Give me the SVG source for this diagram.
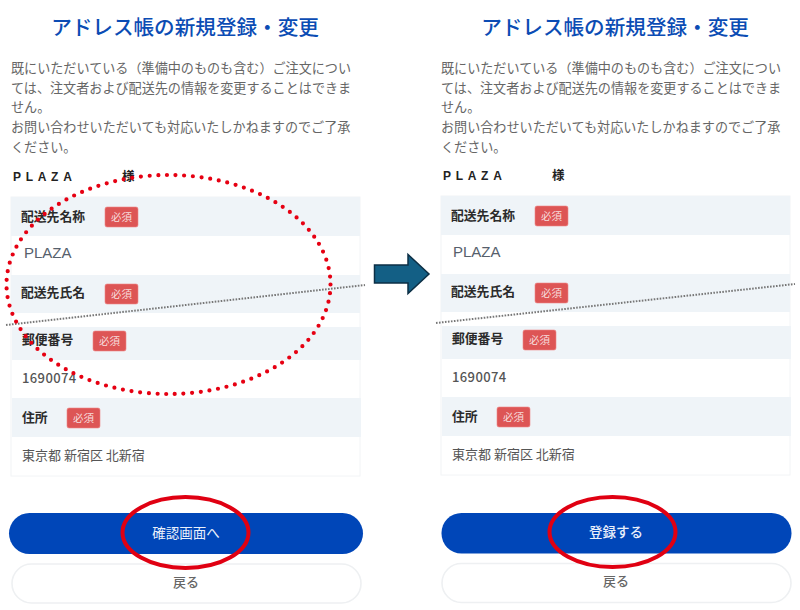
<svg xmlns="http://www.w3.org/2000/svg" width="800" height="610" viewBox="0 0 800 610">
<defs><style>
text{font-family:"Noto Sans CJK JP","Noto Sans",sans-serif}
.title{font-size:20.6px;font-weight:500;fill:#0b4cb4;text-anchor:middle}
.body{font-size:13.1px;fill:#666}
.name{font-size:12.5px;font-weight:700;fill:#222}
.lab{font-size:12.8px;font-weight:700;fill:#2b2b2b}
.val{font-size:13px;fill:#555}
.plz{font-size:15px;fill:#56606c;font-family:"Liberation Sans",sans-serif}
.pl{font-size:12px;font-weight:700;fill:#222;letter-spacing:4.7px;font-family:"Liberation Sans",sans-serif}
.req{font-size:10.5px;fill:#f6dcdc;text-anchor:middle}
.badge{fill:#dd5555;stroke:#e88;stroke-width:.6}
.band{fill:#eff4f8}
.frame{fill:#fff;stroke:#f2f4f6;stroke-width:1}
.pri{fill:#0046b8}
.pritxt{font-size:13.5px;fill:#e9f0fb;text-anchor:middle}
.back{fill:#fff;stroke:#eef0f2;stroke-width:1.6}
.backtxt{font-size:13px;font-weight:500;fill:#666;text-anchor:middle}
.cut{fill:none;stroke:#777;stroke-width:2;stroke-dasharray:1.6 1.4}
.dots{fill:none;stroke:#e60012;stroke-width:4.2;stroke-linecap:round;stroke-dasharray:0 8.7}
.ring{fill:none;stroke:#e00012;stroke-width:4}
</style></defs>
<rect width="800" height="610" fill="#fff"/>

<g id="panel-left">
<text class="title" x="185" y="35">アドレス帳の新規登録・変更</text>
<text class="body" x="11" y="73">既にいただいている（準備中のものも含む）ご注文につい</text>
<text class="body" x="11" y="93">ては、注文者および配送先の情報を変更することはできま</text>
<text class="body" x="11" y="112">せん。</text>
<text class="body" x="11" y="132">お問い合わせいただいても対応いたしかねますのでご了承</text>
<text class="body" x="11" y="152">ください。</text>
<text class="pl" x="13" y="181">PLAZA</text>
<text class="name" x="122" y="181">様</text>
<rect class="frame" x="11" y="197" width="349" height="279"/>
<rect class="band" x="11" y="197" width="349" height="39"/>
<rect class="band" x="11" y="275" width="349" height="38"/>
<rect class="band" x="12" y="327" width="349" height="33"/>
<rect class="band" x="12" y="398" width="349" height="39"/>
<text class="lab" x="21" y="221">配送先名称</text>
<rect class="badge" x="105" y="207" width="33" height="20" rx="2"/><text class="req" x="121.500" y="221">必須</text>
<text class="plz" x="24" y="258">PLAZA</text>
<text class="lab" x="21" y="297">配送先氏名</text>
<rect class="badge" x="105" y="284" width="33" height="20" rx="2"/><text class="req" x="121.500" y="298">必須</text>
<text class="lab" x="22" y="344">郵便番号</text>
<rect class="badge" x="93" y="331" width="33" height="20" rx="2"/><text class="req" x="109.500" y="345">必須</text>
<text class="val" x="22" y="383" style="font-weight:500;letter-spacing:.4px">1690074</text>
<text class="lab" x="22" y="422">住所</text>
<rect class="badge" x="67" y="408" width="33" height="20" rx="2"/><text class="req" x="83.500" y="422">必須</text>
<text class="val" x="22" y="460">東京都 新宿区 北新宿</text>
<rect class="pri" x="9" y="513" width="354" height="41" rx="20.500"/>
<text class="pritxt" x="186" y="538">確認画面へ</text>
<rect class="back" x="12" y="564" width="349" height="39" rx="19.500"/>
<text class="backtxt" x="186" y="587">戻る</text>
</g>

<g id="panel-right">
<text class="title" x="615" y="35">アドレス帳の新規登録・変更</text>
<text class="body" x="441" y="73">既にいただいている（準備中のものも含む）ご注文につい</text>
<text class="body" x="441" y="93">ては、注文者および配送先の情報を変更することはできま</text>
<text class="body" x="441" y="112">せん。</text>
<text class="body" x="441" y="132">お問い合わせいただいても対応いたしかねますのでご了承</text>
<text class="body" x="441" y="152">ください。</text>
<text class="pl" x="443" y="180">PLAZA</text>
<text class="name" x="552" y="180">様</text>
<rect class="frame" x="441" y="196" width="349" height="279"/>
<rect class="band" x="441" y="196" width="349" height="39"/>
<rect class="band" x="441" y="274" width="349" height="38"/>
<rect class="band" x="442" y="326" width="349" height="33"/>
<rect class="band" x="442" y="397" width="349" height="39"/>
<text class="lab" x="451" y="220">配送先名称</text>
<rect class="badge" x="535" y="206" width="33" height="20" rx="2"/><text class="req" x="551.500" y="220">必須</text>
<text class="plz" x="453" y="257">PLAZA</text>
<text class="lab" x="451" y="296">配送先氏名</text>
<rect class="badge" x="535" y="283" width="33" height="20" rx="2"/><text class="req" x="551.500" y="297">必須</text>
<text class="lab" x="452" y="343">郵便番号</text>
<rect class="badge" x="523" y="330" width="33" height="20" rx="2"/><text class="req" x="539.500" y="344">必須</text>
<text class="val" x="452" y="382" style="font-weight:500;letter-spacing:.4px">1690074</text>
<text class="lab" x="452" y="421">住所</text>
<rect class="badge" x="497" y="407" width="33" height="20" rx="2"/><text class="req" x="513.500" y="421">必須</text>
<text class="val" x="452" y="459">東京都 新宿区 北新宿</text>
<rect class="pri" x="441.500" y="513" width="350" height="40.500" rx="20"/>
<text class="pritxt" x="616" y="537" font-weight="500">登録する</text>
<rect class="back" x="442" y="563.500" width="349" height="39" rx="19.500"/>
<text class="backtxt" x="616" y="586">戻る</text>
</g>

<g id="connectors">
<path class="cut" d="M6 325L365 285"/>
<path class="cut" d="M436 323L795 284"/>
<path id="arrow" d="M374.500 265H408V254.500L429 274L408 293.500V283H374.500Z" fill="#135f85" stroke="#0c2f45" stroke-width="1.500"/>
</g>

<g id="callouts">
<ellipse class="dots" cx="168.500" cy="284.500" rx="162" ry="109.500"/>
<ellipse class="ring" cx="185.500" cy="532.500" rx="63" ry="35.500"/>
<ellipse class="ring" cx="612.500" cy="532" rx="63" ry="35"/>
</g>
</svg>
